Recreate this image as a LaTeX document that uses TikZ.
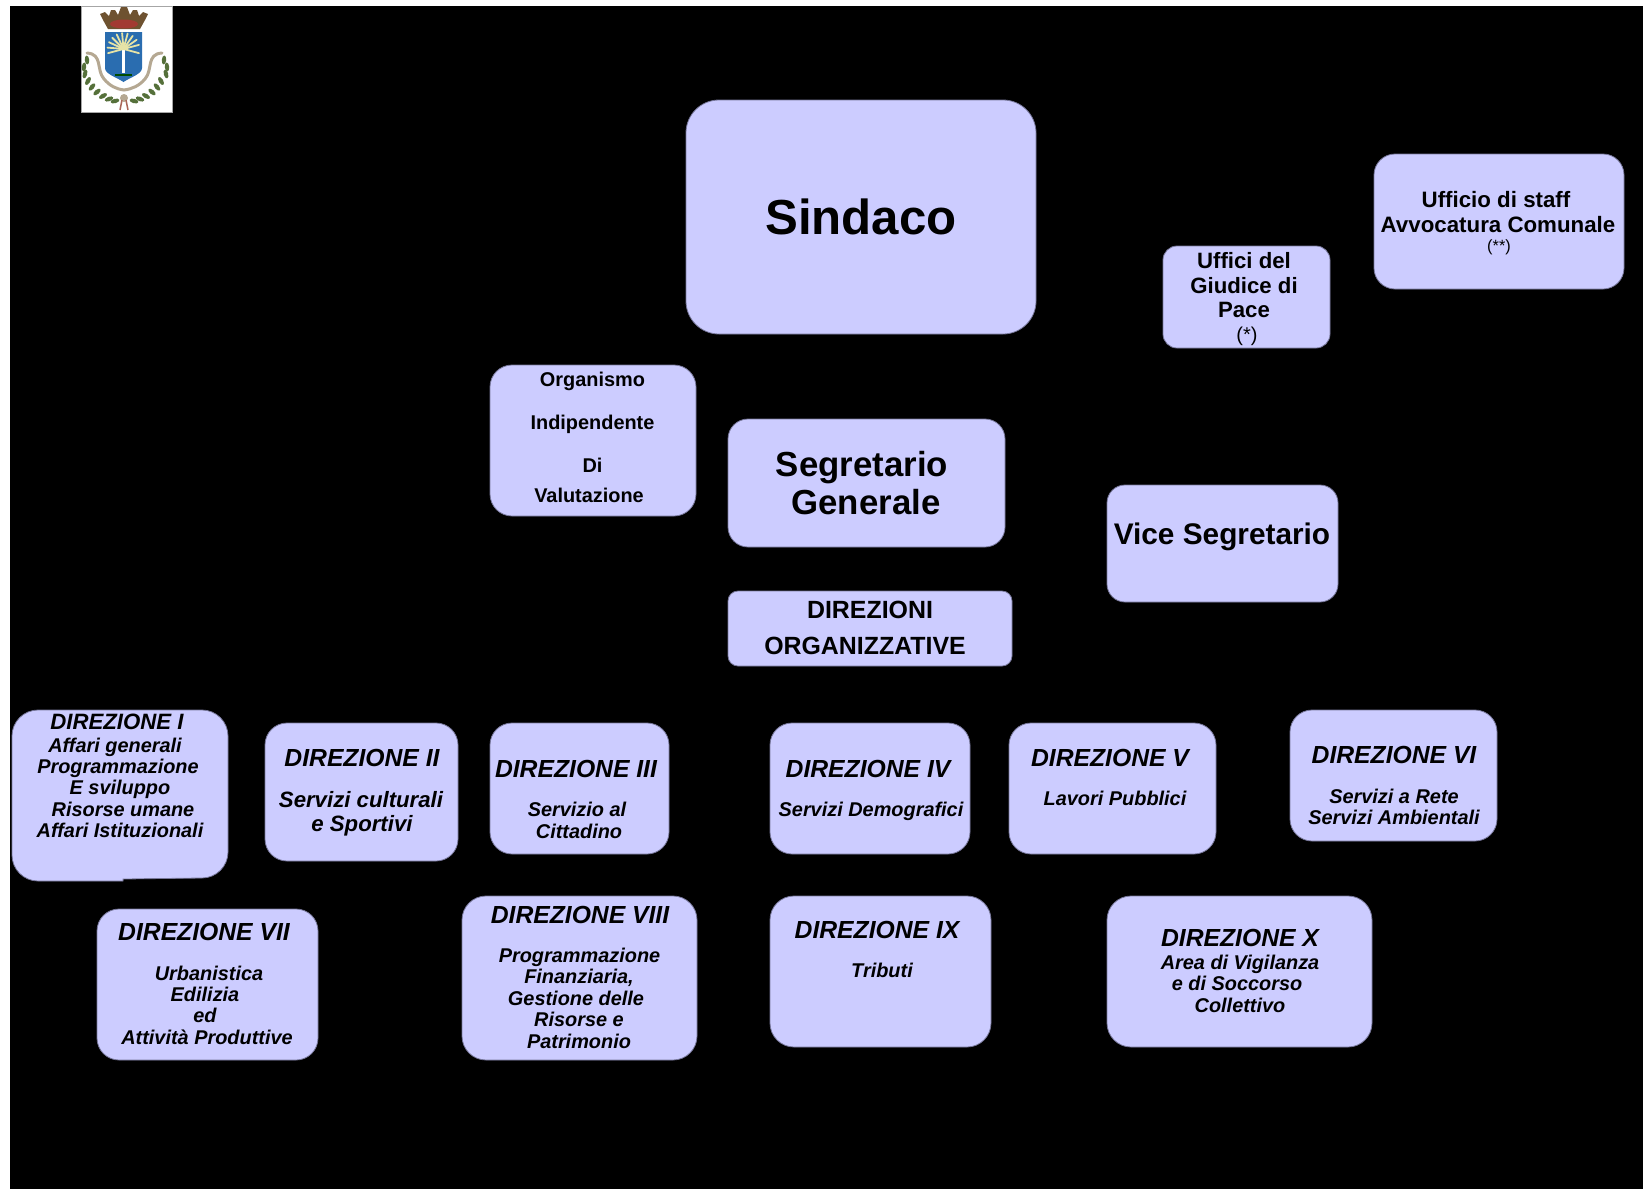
\documentclass[tikz,border=0pt]{standalone}
\usepackage{fontspec}
\setmainfont{Liberation Sans}
\definecolor{boxfill}{HTML}{CCCCFF}
\definecolor{boxline}{HTML}{77779A}
\definecolor{shieldblue}{HTML}{2A6DB0}
\definecolor{frond}{HTML}{E6E3A6}
\definecolor{crownbrown}{HTML}{6E5230}
\definecolor{crownred}{HTML}{A23A32}
\definecolor{ribbon}{HTML}{B5A892}
\definecolor{leaf}{HTML}{55703A}
\newcount\labn
\tikzset{
  boxst/.style={rectangle,draw=boxline,line width=0.8pt,fill=boxfill,inner sep=0pt,outer sep=0pt},
  tx/.style={anchor=base,inner sep=0pt,outer sep=0pt,text=black,align=center},
  tb/.style={tx,font=\bfseries\fontsize{#1}{#1}\selectfont},
  ti/.style={tx,font=\bfseries\itshape\fontsize{#1}{#1}\selectfont},
  tr/.style={tx,font=\fontsize{#1}{#1}\selectfont}
}
% name, x1, y1, x2, y2, radius
\newcommand\bxn[6]{\node[boxst,rounded corners=#6pt,minimum width={(#4-#2)*1pt},minimum height={(#5-#3)*1pt}] (#1) at ({(#2+#4)/2},{(#3+#5)/2}) {};}
\newcommand\lab[4]{\global\advance\labn by 1 \node[#1] (t\the\labn) at (#2,#3) {#4};}
\begin{document}
\begin{tikzpicture}[x=1pt,y=-1pt]
\useasboundingbox (0,0) rectangle (1643,1189);
\fill[white] (0,0) rectangle (1643,1189);
\fill[black] (10,6) rectangle (1643,1189);
% logo
\begin{scope}
\fill[white,draw=gray!70,line width=0.6pt] (81,6) rectangle (172,112);
\fill[crownbrown] (108,29) -- (103,20) -- (100,14) -- (105,12) -- (109,16) -- (111,10) -- (115,10) -- (118,15) -- (121,7) -- (127,7) -- (130,15) -- (133,10) -- (137,10) -- (139,16) -- (143,12) -- (148,14) -- (145,20) -- (140,29) -- cycle;
\fill[crownred] (124,24) ellipse (14 and 4.5);
\fill[shieldblue] (105,32) -- (142,32) -- (142,68) .. controls (142,74) and (131,77) .. (123.5,82) .. controls (116,77) and (105,74) .. (105,68) -- cycle;
\draw[white,line width=2.4pt] (123.5,46) -- (123.5,73);
\foreach \a in {-175,-155,-135,-115,-95,-75,-55,-35,-15,15,165}
  \draw[frond,line width=1.8pt,line cap=round] (123.5,49) -- ++(\a:16);
\draw[black!70!green,line width=2pt] (115,75) -- (132,75);
\draw[ribbon,line width=3pt,line cap=round] (87,53) .. controls (103,54) and (96,70) .. (104,79) .. controls (110,86) and (116,89) .. (124,90) .. controls (132,89) and (139,86) .. (145,79) .. controls (153,70) and (146,54) .. (162,53);
\foreach \x/\y/\a in {87/60/95,84/67/85,85/74/75,88/81/60,92/87/50,97/92/40,103/96/30,109/99/20,115/101/15}
  \fill[leaf,rotate around={\a:(\x,\y)}] (\x,\y) ellipse (4.5 and 2.2);
\foreach \x/\y/\a in {164/60/85,167/67/95,166/74/105,161/81/120,157/87/130,152/92/140,146/96/150,140/99/160,134/101/165}
  \fill[leaf,rotate around={\a:(\x,\y)}] (\x,\y) ellipse (4.5 and 2.2);
\fill[ribbon] (124,98) circle (4);
\draw[crownred!60!ribbon,line width=1.5pt] (122,100) -- (120,110) (126,100) -- (128,110);
\end{scope}
% boxes
\bxn{sindaco}{686}{100}{1036}{334}{33}
\bxn{staff}{1374}{154}{1624}{289}{21}
\bxn{giudice}{1163}{246}{1330}{348}{14}
\bxn{oiv}{490}{365}{696}{516}{22}
\bxn{segretario}{728}{419}{1005}{547}{20}
\bxn{vice}{1107}{485}{1338}{602}{18}
\bxn{direzioni}{728}{591}{1012}{666}{10}
\draw[boxst] (38,710) -- (202,710) .. controls (216.3,710) and (228,721.7) .. (228,736) -- (228,852) .. controls (228,866.3) and (216.3,878) .. (202,878) -- (123,879) -- (123,881) -- (38,881) .. controls (23.7,881) and (12,869.3) .. (12,855) -- (12,736) .. controls (12,721.7) and (23.7,710) .. (38,710) -- cycle;
\bxn{dii}{265}{723}{458}{861}{22}
\bxn{diii}{490}{723}{669}{854}{22}
\bxn{div}{770}{723}{970}{854}{22}
\bxn{dv}{1009}{723}{1216}{854}{22}
\bxn{dvi}{1290}{710}{1497}{841}{22}
\bxn{dvii}{97}{909}{318}{1060}{22}
\bxn{dviii}{462}{896}{697}{1060}{24}
\bxn{dix}{770}{896}{991}{1047}{24}
\bxn{dx}{1107}{896}{1372}{1047}{24}
% text
\lab{tb=49.2}{861}{234}{Sindaco}
\lab{tb=22.3}{1496}{207}{Ufficio di staff}
\lab{tb=22.3}{1498}{232}{Avvocatura Comunale}
\lab{tr=16.3}{1499}{251}{(**)}
\lab{tb=22.2}{1244}{268}{Uffici del}
\lab{tb=22.2}{1244}{293}{Giudice di}
\lab{tb=22.2}{1244}{317}{Pace}
\lab{tr=20}{1247}{341}{(*)}
\lab{tb=19.9}{592.5}{386}{Organismo}
\lab{tb=19.9}{592.5}{429}{Indipendente}
\lab{tb=19.9}{592.5}{472}{Di}
\lab{tb=19.9}{589}{502}{Valutazione}
\lab{tb=34.8}{862}{476}{Segretario}
\lab{tb=34.8}{866}{514}{Generale}
\lab{tb=29.8}{1222}{544}{Vice Segretario}
\lab{tb=24.9}{870}{618}{DIREZIONI}
\lab{tb=24.9}{865}{654}{ORGANIZZATIVE}
\lab{ti=22.2}{117}{729}{DIREZIONE I}
\lab{ti=19.9}{115}{752}{Affari generali}
\lab{ti=19.9}{118}{773}{Programmazione}
\lab{ti=19.9}{120}{794.5}{E sviluppo}
\lab{ti=19.9}{123}{816}{Risorse umane}
\lab{ti=19.9}{120}{837}{Affari Istituzionali}
\lab{ti=24.7}{362}{766}{DIREZIONE II}
\lab{ti=22.2}{361}{807}{Servizi culturali}
\lab{ti=22.2}{362}{831}{e Sportivi}
\lab{ti=24.7}{576}{777}{DIREZIONE III}
\lab{ti=19.9}{577}{816}{Servizio al}
\lab{ti=19.9}{579}{838}{Cittadino}
\lab{ti=24.7}{868}{777}{DIREZIONE IV}
\lab{ti=19.9}{871}{816.5}{Servizi Demografici}
\lab{ti=24.7}{1110}{766}{DIREZIONE V}
\lab{ti=19.9}{1115}{805}{Lavori Pubblici}
\lab{ti=24.7}{1394}{763}{DIREZIONE VI}
\lab{ti=19.9}{1394}{803}{Servizi a Rete}
\lab{ti=19.9}{1394}{824}{Servizi Ambientali}
\lab{ti=24.7}{204}{940}{DIREZIONE VII}
\lab{ti=19.9}{209}{980}{Urbanistica}
\lab{ti=19.9}{205}{1001}{Edilizia}
\lab{ti=19.9}{205}{1022.5}{ed}
\lab{ti=19.9}{207}{1044}{Attività Produttive}
\lab{ti=24.7}{580}{923}{DIREZIONE VIII}
\lab{ti=19.9}{579.5}{962}{Programmazione}
\lab{ti=19.9}{579}{983}{Finanziaria,}
\lab{ti=19.9}{576}{1005}{Gestione delle}
\lab{ti=19.9}{579}{1026.5}{Risorse e}
\lab{ti=19.9}{579}{1048}{Patrimonio}
\lab{ti=24.7}{877}{938}{DIREZIONE IX}
\lab{ti=19.9}{882}{977}{Tributi}
\lab{ti=24.7}{1240}{946}{DIREZIONE X}
\lab{ti=19.9}{1240}{969}{Area di Vigilanza}
\lab{ti=19.9}{1237}{990}{e di Soccorso}
\lab{ti=19.9}{1240}{1012}{Collettivo}
\end{tikzpicture}
\end{document}
